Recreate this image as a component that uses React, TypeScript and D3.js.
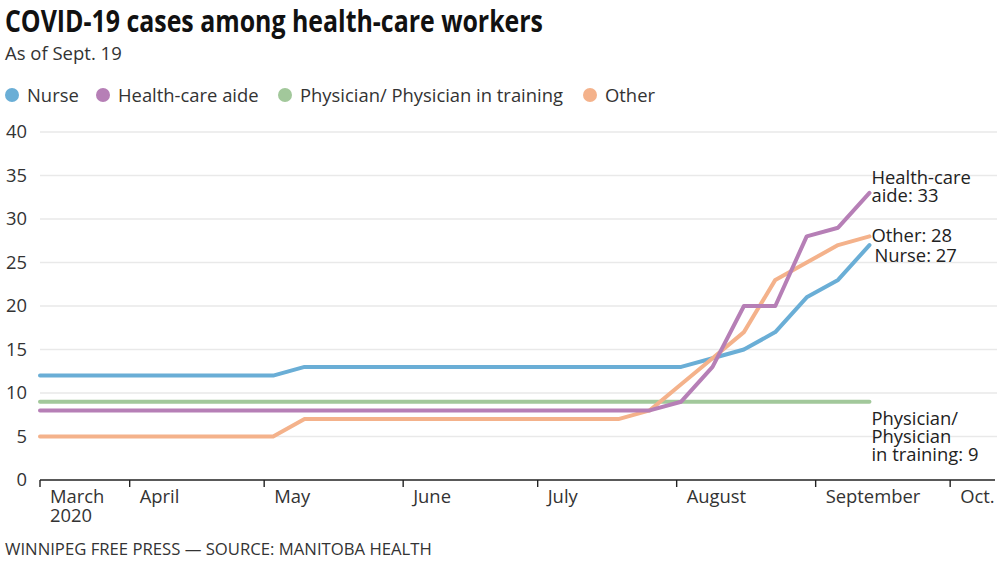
import React from "react";
import * as d3 from "d3";

const dates = [
  "2020-03-12", "2020-03-15", "2020-03-22", "2020-03-29", "2020-04-05", "2020-04-12", "2020-04-19",
  "2020-04-26", "2020-05-03", "2020-05-10", "2020-05-17", "2020-05-24", "2020-05-31", "2020-06-07",
  "2020-06-14", "2020-06-21", "2020-06-28", "2020-07-05", "2020-07-12", "2020-07-19", "2020-07-26",
  "2020-08-02", "2020-08-09", "2020-08-16", "2020-08-23", "2020-08-30", "2020-09-06", "2020-09-13",
];
const nurse = [12, 12, 12, 12, 12, 12, 12, 12, 12, 13, 13, 13, 13, 13, 13, 13, 13, 13, 13, 13, 13, 13, 14, 15, 17, 21, 23, 27];
const aide = [8, 8, 8, 8, 8, 8, 8, 8, 8, 8, 8, 8, 8, 8, 8, 8, 8, 8, 8, 8, 8, 9, 13, 20, 20, 28, 29, 33];
const physician = [9, 9, 9, 9, 9, 9, 9, 9, 9, 9, 9, 9, 9, 9, 9, 9, 9, 9, 9, 9, 9, 9, 9, 9, 9, 9, 9, 9];
const other = [5, 5, 5, 5, 5, 5, 5, 5, 5, 7, 7, 7, 7, 7, 7, 7, 7, 7, 7, 7, 8, 11, 14, 17, 23, 25, 27, 28];

const seriesNames = ["Nurse", "Health-care aide", "Physician/ Physician in training", "Other"];
const seriesColors = ["#6aaed6", "#b67fb6", "#a2c89b", "#f4b28b"];

const yTicks = [0, 5, 10, 15, 20, 25, 30, 35, 40];
const monthTicks = ["2020-03-12", "2020-04-01", "2020-05-01", "2020-06-01", "2020-07-01", "2020-08-01", "2020-09-01", "2020-10-01"];
const monthLabels = ["March", "April", "May", "June", "July", "August", "September", "Oct."];
const domainStart = "2020-03-12";
const domainEnd = "2020-10-11";

const endLabels = [
  { lines: ["Health-care", "aide: 33"], series: 1, dx: 2, dy: -9 },
  { lines: ["Other: 28"], series: 3, dx: 2, dy: 6 },
  { lines: ["Nurse: 27"], series: 0, dx: 5, dy: 17 },
  { lines: ["Physician/", "Physician", "in training: 9"], series: 2, dx: 2, dy: 23 },
];

const FONT = "'Open Sans', 'Noto Sans', sans-serif";
const FS = 18.4;

export default function App() {
  const W = 1000;
  const H = 561;
  const parse = (s: string) => new Date(s + "T00:00:00Z");
  const x = d3.scaleUtc().domain([parse(domainStart), parse(domainEnd)]).range([40, 995]);
  const y = d3.scaleLinear().domain([0, 40]).range([480, 132]);

  const allSeries = [nurse, aide, physician, other];
  const drawOrder = [2, 0, 3, 1];
  const line = d3
    .line<number>()
    .x((_, i) => x(parse(dates[i])))
    .y((v) => y(v));

  const lastDate = parse(dates[dates.length - 1]);
  const legendX = [12, 103, 285, 590];

  return (
    <>
      <style>{`body{margin:0;}`}</style>
      <svg width={W} height={H} style={{ display: "block", background: "#fff" }} fontFamily={FONT}>
        <text x={5} y={32} fontSize={30} fontWeight={700} fill="#111" textLength={538} lengthAdjust="spacingAndGlyphs">
          COVID-19 cases among health-care workers
        </text>
        <text x={5} y={60} fontSize={18.5} fill="#333">
          As of Sept. 19
        </text>

        {seriesNames.map((n, i) => (
          <g key={n}>
            <circle cx={legendX[i]} cy={95} r={7} fill={seriesColors[i]} />
            <text x={legendX[i] + 15} y={101.5} fontSize={FS} fill="#333">
              {n}
            </text>
          </g>
        ))}

        {yTicks.map((t) => (
          <g key={t}>
            {t > 0 && <line x1={40} x2={997} y1={y(t)} y2={y(t)} stroke="#e9e9e9" strokeWidth={1.3} />}
            <text x={27} y={y(t)} dy="0.35em" textAnchor="end" fontSize={FS} fill="#333">
              {t}
            </text>
          </g>
        ))}

        {drawOrder.map((si) => (
          <path
            key={si}
            d={line(allSeries[si]) || ""}
            fill="none"
            stroke={seriesColors[si]}
            strokeWidth={4}
            strokeLinejoin="round"
            strokeLinecap="round"
          />
        ))}

        <line x1={40} x2={995} y1={480} y2={480} stroke="#222" strokeWidth={1.6} />
        {monthTicks.map((m, i) => {
          const xx = x(parse(m));
          return (
            <g key={m}>
              <line x1={xx} x2={xx} y1={480} y2={487} stroke="#222" strokeWidth={1.4} />
              <text x={xx + 10} y={503} fontSize={FS} fill="#333">
                {monthLabels[i]}
              </text>
              {i === 0 && (
                <text x={xx + 10} y={522} fontSize={FS} fill="#333">
                  2020
                </text>
              )}
            </g>
          );
        })}

        {endLabels.map((l) => {
          const vals = allSeries[l.series];
          const vx = x(lastDate) + l.dx;
          const vy = y(vals[vals.length - 1]) + l.dy;
          return (
            <text key={l.lines[0]} x={vx} y={vy} fontSize={FS} fill="#222">
              {l.lines.map((ln, k) => (
                <tspan key={k} x={vx} dy={k === 0 ? 0 : 18}>
                  {ln}
                </tspan>
              ))}
            </text>
          );
        })}

        <text x={5} y={555} fontSize={16.7} fill="#333">
          WINNIPEG FREE PRESS — SOURCE: MANITOBA HEALTH
        </text>
      </svg>
    </>
  );
}
